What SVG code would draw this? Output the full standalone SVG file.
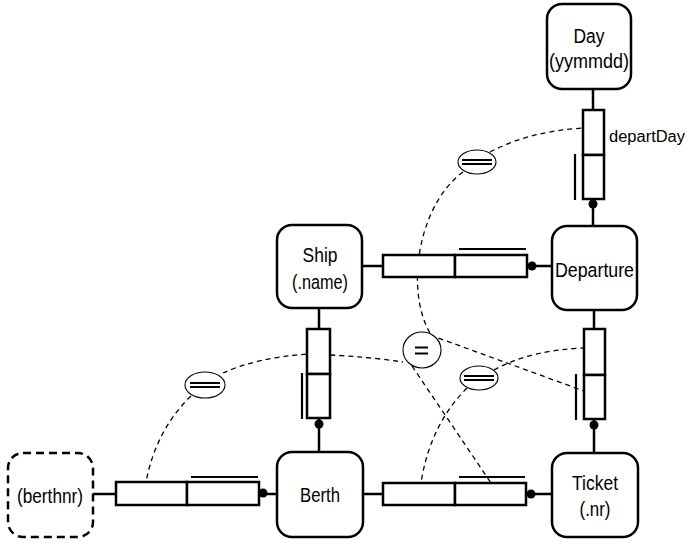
<svg xmlns="http://www.w3.org/2000/svg" width="688" height="543" viewBox="0 0 688 543">
  <style>
    .entity { fill: #fff; stroke: #000; stroke-width: 2.5; }
    .value { fill: #fff; stroke: #000; stroke-width: 2.5; stroke-dasharray: 8 5; }
    .role { fill: #fff; stroke: #000; stroke-width: 2.5; }
    .link { stroke: #000; stroke-width: 2.5; fill: none; }
    .uniq { stroke: #000; stroke-width: 2.2; fill: none; }
    .constraint { stroke: #000; stroke-width: 1.3; fill: none; stroke-dasharray: 5 4; }
    .eq { fill: #fff; stroke: #000; stroke-width: 1.1; }
    .bar { stroke: #000; stroke-width: 2; }
    text { font-family: "Liberation Sans", Arial, sans-serif; font-size: 20px; fill: #000; text-anchor: middle; }
    .lbl { font-size: 16px; text-anchor: start; }
  </style>

  <!-- subset / equality constraint paths (drawn first so role boxes sit on top) -->
  <g id="constraints">
    <path class="constraint" d="M490,152 Q530,131 584,128"/>
    <path class="constraint" d="M463,172 C418,205 405,290 430,333"/>
    <path class="constraint" d="M223,373 Q255,358 308,354"/>
    <path class="constraint" d="M330,355 Q370,357 403,362"/>
    <path class="constraint" d="M191,396 Q156,430 146,482"/>
    <path class="constraint" d="M430,335 L584,391"/>
    <path class="constraint" d="M412,366 L491,483"/>
    <path class="constraint" d="M494,370 Q530,350 584,348"/>
    <path class="constraint" d="M467,388 Q430,425 421,483"/>
  </g>

  <!-- connectors between entities and fact types -->
  <g id="connectors">
    <line class="link" x1="593" y1="89" x2="593" y2="226"/>
    <line class="link" x1="362" y1="266" x2="552" y2="266"/>
    <line class="link" x1="319" y1="308" x2="319" y2="452"/>
    <line class="link" x1="594" y1="310" x2="594" y2="453"/>
    <line class="link" x1="93" y1="494" x2="277" y2="494"/>
    <line class="link" x1="363" y1="494" x2="552" y2="494"/>
  </g>

  <!-- fact types: role boxes, uniqueness bars, mandatory dots -->
  <g id="fact-departDay">
    <rect class="role" x="583" y="110" width="21" height="45"/>
    <rect class="role" x="583" y="155" width="21" height="44"/>
    <line class="uniq" x1="575" y1="154" x2="575" y2="200"/>
    <circle cx="593" cy="204" r="4.5"/>
    <text class="lbl" x="609" y="142" textLength="76" lengthAdjust="spacingAndGlyphs">departDay</text>
  </g>
  <g id="fact-ship-departure">
    <rect class="role" x="383" y="255" width="72" height="22"/>
    <rect class="role" x="455" y="255" width="72" height="22"/>
    <line class="uniq" x1="459" y1="249" x2="526" y2="249"/>
    <circle cx="532" cy="266" r="4.5"/>
  </g>
  <g id="fact-ship-berth">
    <rect class="role" x="307" y="329" width="23" height="45"/>
    <rect class="role" x="307" y="374" width="23" height="44"/>
    <line class="uniq" x1="302" y1="373" x2="302" y2="419"/>
    <circle cx="319" cy="424" r="4.5"/>
  </g>
  <g id="fact-departure-ticket">
    <rect class="role" x="584" y="329" width="21" height="46"/>
    <rect class="role" x="584" y="375" width="21" height="44"/>
    <line class="uniq" x1="576" y1="374" x2="576" y2="420"/>
    <circle cx="594" cy="425" r="4.5"/>
  </g>
  <g id="fact-berthnr-berth">
    <rect class="role" x="116" y="482" width="71" height="23"/>
    <rect class="role" x="187" y="482" width="72" height="23"/>
    <line class="uniq" x1="191" y1="477" x2="258" y2="477"/>
    <circle cx="263" cy="493" r="4.5"/>
  </g>
  <g id="fact-berth-ticket">
    <rect class="role" x="383" y="483" width="72" height="22"/>
    <rect class="role" x="455" y="483" width="71" height="22"/>
    <line class="uniq" x1="459" y1="477" x2="525" y2="477"/>
    <circle cx="531" cy="494" r="4.5"/>
  </g>

  <!-- constraint symbols -->
  <g id="eq-top">
    <ellipse class="eq" cx="477" cy="162" rx="19" ry="12"/>
    <line class="bar" x1="462" y1="160" x2="492" y2="160"/>
    <line class="bar" x1="462" y1="164" x2="492" y2="164"/>
  </g>
  <g id="eq-left">
    <ellipse class="eq" cx="205" cy="385" rx="20" ry="13"/>
    <line class="bar" x1="190" y1="383" x2="220" y2="383"/>
    <line class="bar" x1="190" y1="387" x2="220" y2="387"/>
  </g>
  <g id="eq-right">
    <ellipse class="eq" cx="479" cy="378" rx="19" ry="12"/>
    <line class="bar" x1="464" y1="376" x2="494" y2="376"/>
    <line class="bar" x1="464" y1="380" x2="494" y2="380"/>
  </g>
  <g id="eq-center">
    <ellipse class="eq" cx="422" cy="350" rx="19" ry="18"/>
    <line class="bar" x1="415" y1="347.5" x2="428" y2="347.5"/>
    <line class="bar" x1="415" y1="353.5" x2="428" y2="353.5"/>
  </g>

  <!-- entity and value types -->
  <g id="day">
    <rect class="entity" x="547" y="4" width="84" height="85" rx="15"/>
    <text x="589" y="43" textLength="31" lengthAdjust="spacingAndGlyphs">Day</text>
    <text x="589" y="68" textLength="80" lengthAdjust="spacingAndGlyphs">(yymmdd)</text>
  </g>
  <g id="ship">
    <rect class="entity" x="277" y="225" width="85" height="83" rx="15"/>
    <text x="320" y="262" textLength="35" lengthAdjust="spacingAndGlyphs">Ship</text>
    <text x="320" y="289" textLength="56" lengthAdjust="spacingAndGlyphs">(.name)</text>
  </g>
  <g id="departure">
    <rect class="entity" x="552" y="226" width="85" height="84" rx="15"/>
    <text x="594.5" y="277" textLength="79" lengthAdjust="spacingAndGlyphs">Departure</text>
  </g>
  <g id="berthnr">
    <rect class="value" x="8" y="453" width="85" height="84" rx="15"/>
    <text x="50" y="503" textLength="66" lengthAdjust="spacingAndGlyphs">(berthnr)</text>
  </g>
  <g id="berth">
    <rect class="entity" x="277" y="452" width="86" height="85" rx="15"/>
    <text x="320" y="502" textLength="40" lengthAdjust="spacingAndGlyphs">Berth</text>
  </g>
  <g id="ticket">
    <rect class="entity" x="552" y="453" width="86" height="84" rx="15"/>
    <text x="595" y="490" textLength="46" lengthAdjust="spacingAndGlyphs">Ticket</text>
    <text x="595" y="516" textLength="31" lengthAdjust="spacingAndGlyphs">(.nr)</text>
  </g>
</svg>
